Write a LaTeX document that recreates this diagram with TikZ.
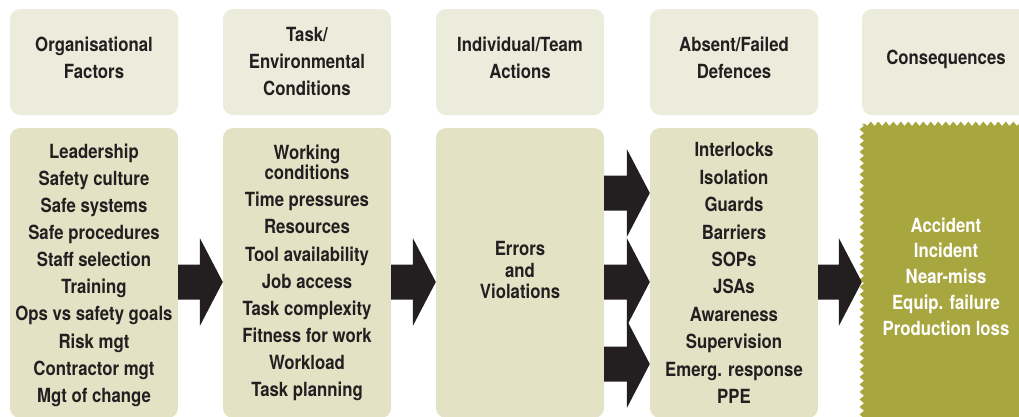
\documentclass[tikz,border=0pt]{standalone}
\usepackage{fontspec}
\setmainfont[FakeStretch=0.86]{TeX Gyre Heros}
\usepackage{xcolor}
\usepackage{tikz}
\usetikzlibrary{calc,decorations.pathmorphing}

\definecolor{crema}{HTML}{ECECDC}
\definecolor{sabbia}{HTML}{E3E2C5}
\definecolor{oliva}{HTML}{A8A63F}
\definecolor{inchiostro}{HTML}{231F20}

\begin{document}
\begin{tikzpicture}[x=1pt,y=-1pt]

% Stili per riquadri e frecce piene
\tikzset{
  testata/.style={fill=crema, rounded corners=10pt, minimum width=168pt, minimum height=106pt,
    align=center, text=inchiostro, font=\bfseries\fontsize{19.5}{27}\selectfont},
  colonna/.style={fill=sabbia, rounded corners=10pt, minimum width=168pt, minimum height=290pt,
    align=center, text=inchiostro, font=\bfseries\fontsize{19.5}{27.1}\selectfont},
  freccia/.style={fill=inchiostro, to path={
    ($(\tikztostart)+(0,-17.5)$) -- ($(\tikztotarget)+(-23,-17.5)$) -- ($(\tikztotarget)+(-23,-44)$)
    -- (\tikztotarget) -- ($(\tikztotarget)+(-23,44)$) -- ($(\tikztotarget)+(-23,17.5)$)
    -- ($(\tikztostart)+(0,17.5)$) -- cycle}}
}

\useasboundingbox (0,0) rectangle (1019,416);
\clip (0,0) rectangle (1019,416);

% --- Parte superiore: intestazioni ---
\node[testata, text depth=9pt] (t1) at (94,62) {Organisational\\Factors};
\node[testata] (t2) at (307,62) {Task/\\Environmental\\Conditions};
\node[testata, text depth=9pt] (t3) at (520,62) {Individual/Team\\Actions};
\node[testata, text depth=9pt] (t4) at (734,62) {Absent/Failed\\Defences};
\node[testata, text depth=10pt] (t5) at (946,62) {Consequences};

% --- Parte inferiore: colonne ---
\node[colonna, text depth=0pt] (c1) at (94,273) {Leadership\\Safety culture\\Safe systems\\Safe procedures\\Staff selection\\
  Training\\Ops vs safety goals\\Risk mgt\\Contractor mgt\\Mgt of change};
\node[colonna] (c2) at (307,273) {Working\\[-7pt]conditions\\Time pressures\\Resources\\Tool availability\\
  Job access\\Task complexity\\Fitness for work\\Workload\\Task planning};
\node[colonna, text depth=6pt] (c3) at (520,273) {Errors\\[-5.3pt]and\\[-5.3pt]Violations};
\node[colonna, font=\bfseries\fontsize{19.5}{27.4}\selectfont] (c4) at (734,273) {Interlocks\\Isolation\\Guards\\
  Barriers\\SOPs\\JSAs\\Awareness\\Supervision\\Emerg. response\\PPE};

% Conseguenze: bordo a zig-zag
\node[minimum width=168pt, minimum height=296pt] (c5) at (946,272) {};
\fill[oliva, decorate, decoration={zigzag, segment length=7.5pt, amplitude=2.2pt}]
  (c5.north west) rectangle (c5.south east);
\node[align=center, text=white, font=\bfseries\fontsize{19.5}{25.7}\selectfont] (c5t) at ($(c5.center)+(0,4.5)$)
  {Accident\\Incident\\Near-miss\\Equip. failure\\Production loss};

% Frecce
\coordinate (r1) at (0,193);
\coordinate (r2) at (0,282);
\coordinate (r3) at (0,364);
\path[freccia] (c1.east |- r2) to (c2.west |- r2);
\path[freccia] (c2.east |- r2) to (c3.west |- r2);
\foreach \r in {r1,r2,r3}
  \path[freccia] (c3.east |- \r) to (c4.west |- \r);
\path[freccia] (c4.east |- r2) to (c5.west |- r2);
\end{tikzpicture}
\end{document}
